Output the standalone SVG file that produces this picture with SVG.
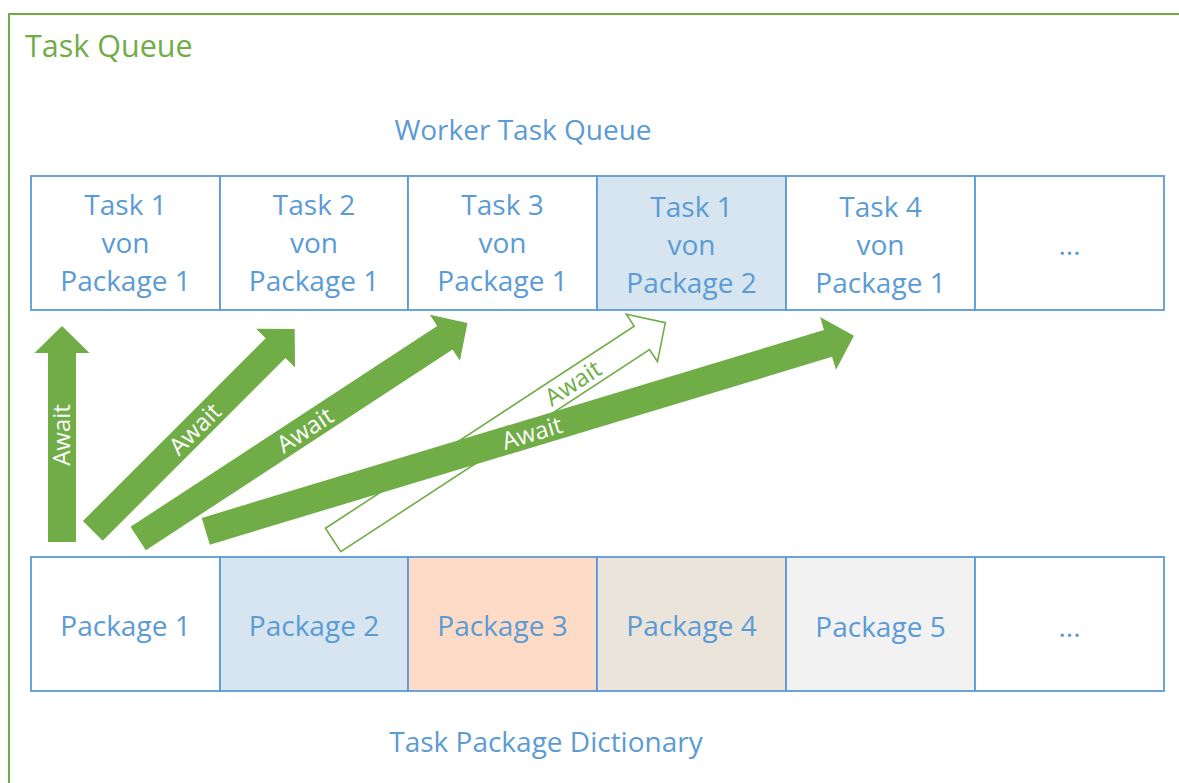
<svg xmlns="http://www.w3.org/2000/svg" width="1179" height="783" viewBox="0 0 1179 783">
  <style>
    .frame { fill: none; stroke: #70AD47; stroke-width: 2; }
    .title { font-family: "Open Sans", "Liberation Sans", sans-serif; font-size: 30.5px; fill: #70AD47; }
    .cell { stroke: #5B9BD5; stroke-width: 1.8; }
    .lbl { font-family: "Open Sans", "Liberation Sans", sans-serif; font-size: 28px; fill: #5B9BD5; text-anchor: middle; }
    .arrow { fill: #70AD47; stroke: none; }
    .arrow-open { fill: #FFFFFF; stroke: #70AD47; stroke-width: 1.6; stroke-linejoin: miter; }
    .aw { font-family: "Open Sans", "Liberation Sans", sans-serif; font-size: 24px; fill: #FFFFFF; text-anchor: middle; }
    .aw-g { fill: #70AD47; }
  </style>

  <rect width="1179" height="783" fill="#FFFFFF"/>

  <!-- outer container -->
  <g id="task-queue">
    <rect class="frame" x="9" y="14" width="1200" height="800"/>
    <text class="title" x="25" y="57">Task Queue</text>
  </g>

  <!-- worker task queue row -->
  <g id="worker-task-queue">
    <text class="lbl" x="523" y="140">Worker Task Queue</text>
    <g id="wq-1">
      <rect class="cell" x="31" y="176" width="189" height="134" fill="#FFFFFF"/>
      <text class="lbl" x="125.5" y="215">Task 1</text>
      <text class="lbl" x="125.5" y="253">von</text>
      <text class="lbl" x="125.5" y="291">Package 1</text>
    </g>
    <g id="wq-2">
      <rect class="cell" x="220" y="176" width="188" height="134" fill="#FFFFFF"/>
      <text class="lbl" x="314" y="215">Task 2</text>
      <text class="lbl" x="314" y="253">von</text>
      <text class="lbl" x="314" y="291">Package 1</text>
    </g>
    <g id="wq-3">
      <rect class="cell" x="408" y="176" width="189" height="134" fill="#FFFFFF"/>
      <text class="lbl" x="502.5" y="215">Task 3</text>
      <text class="lbl" x="502.5" y="253">von</text>
      <text class="lbl" x="502.5" y="291">Package 1</text>
    </g>
    <g id="wq-4">
      <rect class="cell" x="597" y="176" width="189" height="134" fill="#D6E5EF"/>
      <text class="lbl" x="691.5" y="217">Task 1</text>
      <text class="lbl" x="691.5" y="255">von</text>
      <text class="lbl" x="691.5" y="293">Package 2</text>
    </g>
    <g id="wq-5">
      <rect class="cell" x="786" y="176" width="189" height="134" fill="#FFFFFF"/>
      <text class="lbl" x="880.5" y="217">Task 4</text>
      <text class="lbl" x="880.5" y="255">von</text>
      <text class="lbl" x="880.5" y="293">Package 1</text>
    </g>
    <g id="wq-more">
      <rect class="cell" x="975" y="176" width="189" height="134" fill="#FFFFFF"/>
      <text class="lbl" x="1069.5" y="255">...</text>
    </g>
  </g>

  <!-- task package dictionary row -->
  <g id="task-package-dictionary">
    <g id="pkg-1">
      <rect class="cell" x="31" y="557" width="189" height="134" fill="#FFFFFF"/>
      <text class="lbl" x="125.5" y="636">Package 1</text>
    </g>
    <g id="pkg-2">
      <rect class="cell" x="220" y="557" width="188" height="134" fill="#D6E5EF"/>
      <text class="lbl" x="314" y="636">Package 2</text>
    </g>
    <g id="pkg-3">
      <rect class="cell" x="408" y="557" width="189" height="134" fill="#FDDBC6"/>
      <text class="lbl" x="502.5" y="636">Package 3</text>
    </g>
    <g id="pkg-4">
      <rect class="cell" x="597" y="557" width="189" height="134" fill="#EBE4DA"/>
      <text class="lbl" x="691.5" y="636">Package 4</text>
    </g>
    <g id="pkg-5">
      <rect class="cell" x="786" y="557" width="189" height="134" fill="#F2F2F2"/>
      <text class="lbl" x="880.5" y="637">Package 5</text>
    </g>
    <g id="pkg-more">
      <rect class="cell" x="975" y="557" width="189" height="134" fill="#FFFFFF"/>
      <text class="lbl" x="1069.5" y="637">...</text>
    </g>
    <text class="lbl" x="546" y="752">Task Package Dictionary</text>
  </g>

  <!-- await connectors: block arrows from packages up to queued tasks -->
  <g id="connectors">
    <!-- hollow arrow sits underneath the long filled one -->
    <g id="await-5" transform="translate(333.1,540) rotate(-33.2)">
      <polygon class="arrow-open" points="0,-14 369,-14 369,-28.5 397,0 369,28.5 369,14 0,14"/>
    </g>
    <g id="await-1" transform="translate(62,542) rotate(-90)">
      <polygon class="arrow" points="0,-14 189,-14 189,-27.5 216,0 189,27.5 189,14 0,14"/>
    </g>
    <g id="await-2" transform="translate(92.8,530.9) rotate(-45)">
      <polygon class="arrow" points="0,-14 258.5,-14 258.5,-27.5 285.5,0 258.5,27.5 258.5,14 0,14"/>
    </g>
    <g id="await-3" transform="translate(138.2,538.5) rotate(-33.2)">
      <polygon class="arrow" points="0,-14 366.5,-14 366.5,-27.5 393.5,0 366.5,27.5 366.5,14 0,14"/>
    </g>
    <g id="await-4" transform="translate(205.8,531.3) rotate(-16.8)">
      <polygon class="arrow" points="0,-14 650,-14 650,-27.5 677,0 650,27.5 650,14 0,14"/>
    </g>

    <text class="aw" transform="translate(62,435) rotate(-90)" dy="0.35em">Await</text>
    <text class="aw" transform="translate(195,429) rotate(-45)" dy="0.35em">Await</text>
    <text class="aw" transform="translate(305,430) rotate(-33.2)" dy="0.35em">Await</text>
    <text class="aw" transform="translate(532,433) rotate(-16.8)" dy="0.35em">Await</text>
    <text class="aw aw-g" transform="translate(573,383) rotate(-33.2)" dy="0.35em">Await</text>
  </g>
</svg>
